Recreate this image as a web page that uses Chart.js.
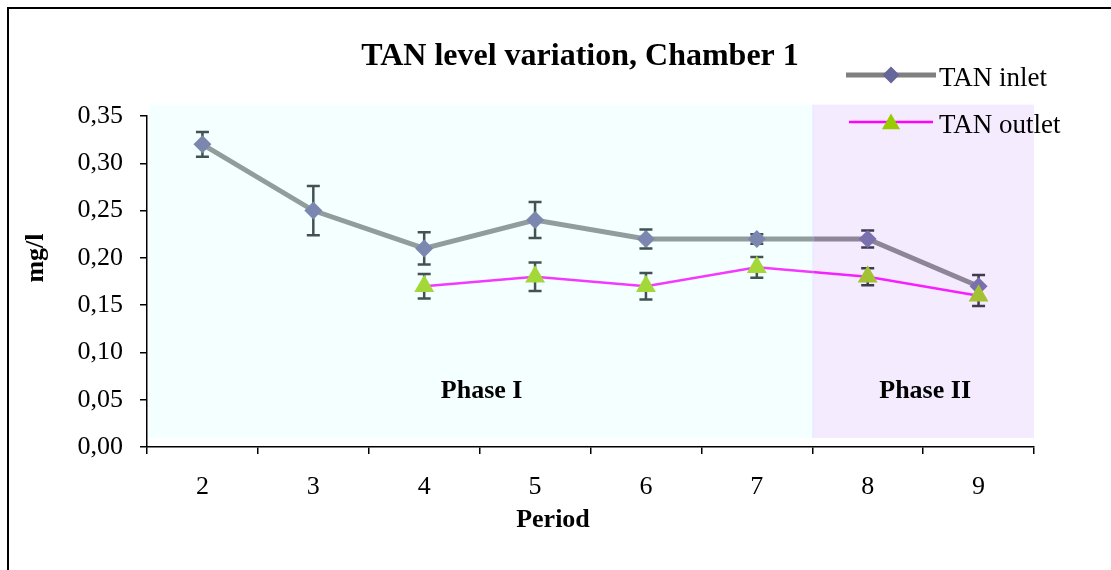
<!DOCTYPE html>
<html>
<head>
<meta charset="utf-8">
<title>TAN level variation, Chamber 1</title>
<script src="https://cdn.jsdelivr.net/npm/chart.js@4.4.1/dist/chart.umd.min.js"></script>
<style>
  html, body { margin: 0; padding: 0; background: #fff; }
  #wrap { position: relative; width: 1111px; height: 570px; overflow: hidden; }
  canvas { display: block; }
</style>
</head>
<body>
<div id="wrap"><canvas id="chart" width="1111" height="570"></canvas></div>
<script>
'use strict';

/* ---- Data ---- */
const periods = ['2', '3', '4', '5', '6', '7', '8', '9'];
const inletValues = [0.32, 0.25, 0.21, 0.24, 0.22, 0.22, 0.22, 0.17];
const inletErrors = [0.013, 0.026, 0.017, 0.019, 0.010, 0.005, 0.009, 0.012];
const outletValues = [null, null, 0.17, 0.18, 0.17, 0.19, 0.18, 0.16];
const outletErrors = [null, null, 0.013, 0.015, 0.014, 0.011, 0.009, 0.011];
const yTickLabels = ['0,00', '0,05', '0,10', '0,15', '0,20', '0,25', '0,30', '0,35'];
const phaseNames = ['Phase I', 'Phase II'];
const phaseFirst = ['2', '8'];
const phaseLast = ['7', '9'];

const SERIF = '"Liberation Serif", "Times New Roman", serif';
const phaseColors = ['rgba(204,255,255,0.22)', 'rgba(204,153,255,0.2)'];

/* ---- Marker shapes (legend) ---- */
function diamond(ctx, x, y, r) {
  ctx.beginPath();
  ctx.moveTo(x - r, y);
  ctx.lineTo(x, y - r);
  ctx.lineTo(x + r, y);
  ctx.lineTo(x, y + r);
  ctx.closePath();
  ctx.fill();
}

function triangle(ctx, x, y, r) {
  ctx.beginPath();
  ctx.moveTo(x, y - r);
  ctx.lineTo(x + r * 0.866, y + r * 0.5);
  ctx.lineTo(x - r * 0.866, y + r * 0.5);
  ctx.closePath();
  ctx.fill();
}

/* ---- Extras: error bars, phase bands, texts, legend ---- */
const extrasPlugin = {
  id: 'extras',
  beforeDatasetsDraw(chart) {
    const { ctx, scales: { x, y } } = chart;
    ctx.save();
    ctx.strokeStyle = '#1c2222';
    ctx.lineWidth = 2.5;
    [[inletValues, inletErrors], [outletValues, outletErrors]].forEach(([vals, errs]) => {
      vals.forEach((v, i) => {
        if (v === null || errs[i] === null) return;
        const px = x.getPixelForValue(i);
        const top = y.getPixelForValue(v + errs[i]);
        const bot = y.getPixelForValue(v - errs[i]);
        ctx.beginPath();
        ctx.moveTo(px, top); ctx.lineTo(px, bot);
        ctx.moveTo(px - 6.5, top); ctx.lineTo(px + 6.5, top);
        ctx.moveTo(px - 6.5, bot); ctx.lineTo(px + 6.5, bot);
        ctx.stroke();
      });
    });
    ctx.restore();
  },
  afterDatasetsDraw(chart) {
    const { ctx, scales: { x, y } } = chart;
    const top = y.getPixelForValue(0.362);
    const bot = y.getPixelForValue(0.0095);
    ctx.save();
    phaseNames.forEach((name, i) => {
      const x0 = x.getPixelForValue(periods.indexOf(phaseFirst[i]) - 0.5);
      const x1 = x.getPixelForValue(periods.indexOf(phaseLast[i]) + 0.5);
      ctx.fillStyle = phaseColors[i];
      ctx.fillRect(x0 + (i === 0 ? 2 : 0), top, x1 - x0, bot - top);
    });
    ctx.restore();
  },
  afterDraw(chart) {
    const { ctx, scales: { x, y } } = chart;
    ctx.save();
    ctx.fillStyle = '#000';
    ctx.textAlign = 'center';
    ctx.textBaseline = 'alphabetic';

    // phase labels
    ctx.font = 'bold 26px ' + SERIF;
    phaseNames.forEach((name, i) => {
      const mid = (periods.indexOf(phaseFirst[i]) - 0.5 + periods.indexOf(phaseLast[i]) + 0.5) / 2;
      ctx.fillText(name, x.getPixelForValue(mid) + 2, y.getPixelForValue(0.052));
    });

    // title
    ctx.font = 'bold 32px ' + SERIF;
    ctx.fillText('TAN level variation, Chamber 1', 580, 65);

    // axis titles
    ctx.font = 'bold 26px ' + SERIF;
    ctx.fillText('Period', 553, 527);
    ctx.save();
    ctx.translate(43, 258);
    ctx.rotate(-Math.PI / 2);
    ctx.fillText('mg/l', 0, 0);
    ctx.restore();

    // legend
    ctx.textAlign = 'left';
    ctx.font = '27px ' + SERIF;
    ctx.lineCap = 'butt';
    ctx.strokeStyle = '#808080';
    ctx.lineWidth = 5;
    ctx.beginPath(); ctx.moveTo(846, 75); ctx.lineTo(936, 75); ctx.stroke();
    ctx.fillStyle = '#666699';
    diamond(ctx, 891, 75, 8.5);
    ctx.strokeStyle = '#FF00FF';
    ctx.lineWidth = 2.5;
    ctx.beginPath(); ctx.moveTo(849, 122); ctx.lineTo(933, 122); ctx.stroke();
    ctx.fillStyle = '#99CC00';
    triangle(ctx, 891, 124, 10.5);
    ctx.fillStyle = '#000';
    ctx.fillText('TAN inlet', 939, 86);
    ctx.fillText('TAN outlet', 939, 133);

    // outer frame
    ctx.strokeStyle = '#000';
    ctx.lineWidth = 2;
    ctx.strokeRect(8, 8, 1300, 1300);
    ctx.restore();
  }
};

/* ---- Chart ---- */
const canvas = document.getElementById('chart');

new Chart(canvas, {
  type: 'line',
  data: {
    labels: periods,
    datasets: [
      {
        label: 'TAN inlet',
        data: inletValues,
        order: 1,
        borderColor: '#808080',
        borderWidth: 5,
        tension: 0,
        pointStyle: 'rectRot',
        pointRadius: 9,
        pointBackgroundColor: '#666699',
        pointBorderWidth: 0
      },
      {
        label: 'TAN outlet',
        data: outletValues,
        order: 0,
        borderColor: '#FF00FF',
        borderWidth: 2.5,
        tension: 0,
        pointStyle: 'triangle',
        pointRadius: 11.5,
        pointBackgroundColor: '#99CC00',
        pointBorderWidth: 0
      }
    ]
  },
  options: {
    responsive: false,
    animation: false,
    devicePixelRatio: 1,
    layout: { padding: { top: 116, right: 77, left: 0, bottom: 0 } },
    plugins: {
      legend: { display: false },
      tooltip: { enabled: false },
      title: { display: false }
    },
    scales: {
      x: {
        offset: true,
        grid: { offset: true, drawOnChartArea: false, drawTicks: true, tickLength: 7, color: '#000', lineWidth: 1.5 },
        border: { color: '#000', width: 1.5 },
        ticks: { color: '#000', font: { family: SERIF, size: 26 }, padding: 18, maxRotation: 0 },
        afterFit(s) { s.height = 123; }
      },
      y: {
        min: 0,
        max: 0.35,
        grid: { drawOnChartArea: false, drawTicks: true, tickLength: 7, color: '#000', lineWidth: 1.5 },
        border: { color: '#000', width: 1.5 },
        ticks: {
          stepSize: 0.05,
          color: '#000',
          font: { family: SERIF, size: 26 },
          padding: 17,
          callback: (v, i) => yTickLabels[i]
        },
        afterFit(s) { s.width = 147; }
      }
    }
  },
  plugins: [extrasPlugin]
});
</script>
</body>
</html>
